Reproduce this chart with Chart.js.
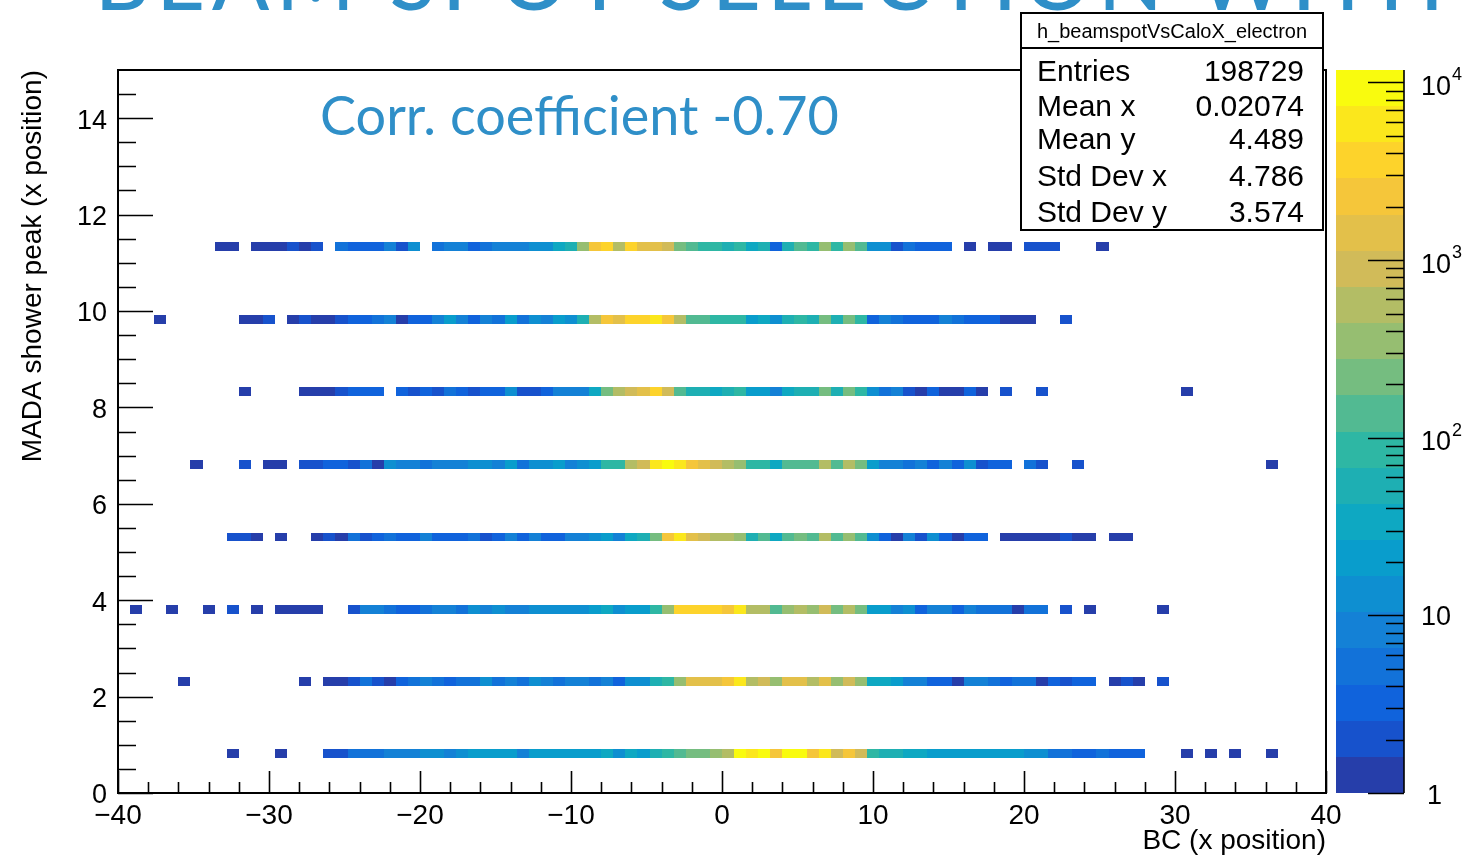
<!DOCTYPE html>
<html>
<head>
<meta charset="utf-8">
<title>h_beamspotVsCaloX_electron</title>
<script src="https://cdn.jsdelivr.net/npm/chart.js@4.4.1/dist/chart.umd.min.js"></script>
<style>
  html, body { margin: 0; padding: 0; background: #fff; }
  #wrap { position: relative; width: 1466px; height: 855px; overflow: hidden; }
</style>
</head>
<body>
<div id="wrap"><canvas id="h2" width="1466" height="855"></canvas></div>
<script>
// x binning of the histogram: 100 bins of 0.8 from -40 to 40
const xLow = -40;
const binWidthX = 0.8;

// y of each filled row (MADA shower peak), rows are 0.18 tall
const rowCentres = [0.82, 2.31, 3.81, 5.31, 6.82, 8.33, 9.83, 11.34];
const rowHalfHeight = 0.09;

// bin contents per row, one value per x bin
const row083 = [0,0,0,0,0,0,0,0,0,1, 0,0,0,1,0,0,0,2,2,5, 5,5,8,8,8,12,12,8,12,20, 20,20,20,8,20,20,20,20,20,20, 32,12,32,20,50,80,125,200,200,320, 500,8000,5000,11750,2000,8000,8000,2000,5000,800, 2000,800,80,50,50,32,32,20,20,20, 20,20,20,20,20,12,12,5,5,3, 3,5,3,3,3,0,0,0,1,0, 1,0,1,0,0,1,0,0,0,0];
const row233 = [0,0,0,0,0,1,0,0,0,0, 0,0,0,0,0,1,0,1,1,2, 5,2,1,3,5,8,5,3,5,5, 12,5,8,5,12,8,5,8,8,5, 8,3,12,12,50,80,320,1250,1250,1250, 2000,5000,500,800,320,1250,1250,500,1250,320, 800,320,32,32,20,8,8,3,3,1, 8,8,5,3,5,5,1,3,2,3, 3,0,1,2,1,0,2,0,0,0, 0,0,0,0,0,0,0,0,0,0];
const row383 = [0,1,0,0,1,0,0,1,0,2, 0,1,0,1,1,1,1,0,0,2, 8,8,5,3,3,5,8,8,5,12, 8,12,8,8,12,12,12,12,12,20, 32,12,20,20,80,320,3200,3200,3200,3200, 2000,5000,500,500,125,320,500,320,800,200, 500,200,20,20,8,12,3,8,8,3, 8,5,5,5,1,5,5,0,2,0, 1,0,0,0,0,0,1,0,0,0, 0,0,0,0,0,0,0,0,0,0];
const row533 = [0,0,0,0,0,0,0,0,0,2, 2,1,0,1,0,0,1,2,1,5, 2,3,5,3,3,8,3,3,3,5, 2,3,8,3,8,3,3,8,8,12, 20,8,32,50,200,2000,5000,1250,800,500, 500,320,50,125,32,125,200,125,500,125, 320,125,12,3,1,8,2,12,3,1, 3,3,0,1,1,1,1,1,2,1, 1,0,1,1,0,0,0,0,0,0, 0,0,0,0,0,0,0,0,0,0];
const row683 = [0,0,0,0,0,0,1,0,0,0, 2,0,1,1,0,2,2,3,3,2, 5,1,12,8,8,5,8,8,8,12, 12,8,25,5,12,12,20,8,12,20, 80,80,500,800,5000,8000,5000,2000,1250,800, 500,320,80,80,32,125,125,125,500,125, 500,200,20,8,8,5,8,3,8,3, 12,2,3,3,0,5,2,0,0,2, 0,0,0,0,0,0,0,0,0,0, 0,0,0,0,0,1,0,0,0,0];
const row833 = [0,0,0,0,0,0,0,0,0,0, 1,0,0,0,0,1,1,1,2,3, 3,3,0,3,2,3,2,5,3,2, 3,3,12,2,2,3,8,8,8,32, 200,500,800,1250,3200,800,125,50,50,32, 50,80,20,20,8,32,50,50,200,50, 200,80,12,5,8,2,1,3,1,1, 3,1,0,2,0,0,2,0,0,0, 0,0,0,0,0,0,0,0,1,0, 0,0,0,0,0,0,0,0,0,0];
const row983 = [0,0,0,1,0,0,0,0,0,0, 1,1,2,0,1,2,1,1,2,3, 3,5,8,1,3,3,8,20,8,3, 8,5,20,5,12,8,20,12,50,500, 2000,1250,3200,3200,5000,2000,500,125,125,80, 80,80,20,32,12,50,80,50,200,50, 200,80,3,8,5,3,3,3,8,5, 3,3,3,1,1,1,0,0,2,0, 0,0,0,0,0,0,0,0,0,0, 0,0,0,0,0,0,0,0,0,0];
const row1133 = [0,0,0,0,0,0,0,0,1,1, 0,1,1,1,2,1,2,0,5,3, 3,3,8,2,12,0,5,8,8,3, 5,8,8,8,12,12,32,50,320,2000, 3200,500,3200,1250,1250,800,200,125,80,80, 50,80,32,50,3,50,125,80,320,80, 320,125,12,12,2,5,3,3,3,0, 1,0,1,1,0,2,2,2,0,0, 0,1,0,0,0,0,0,0,0,0, 0,0,0,0,0,0,0,0,0,0];
const rows = [row083, row233, row383, row533, row683, row833, row983, row1133];

// stats box
const histName = 'h_beamspotVsCaloX_electron';
const statLabels = ['Entries', 'Mean x', 'Mean y', 'Std Dev x', 'Std Dev y'];
const statValues = ['198729', '0.02074', '4.489', '4.786', '3.574'];

// colour bar decades
const zDecades = [0, 1, 2, 3, 4];

const corrText = 'Corr. coefficient -0.70';
const headline = 'BEAM SPOT SELECTION WITH';

// ROOT kBird palette
const birdStops = [0.0, 0.125, 0.25, 0.375, 0.5, 0.625, 0.75, 0.875, 1.0];
const birdR = [0.2082, 0.0592, 0.0780, 0.0232, 0.1802, 0.5301, 0.8186, 0.9956, 0.9764];
const birdG = [0.1664, 0.3599, 0.5041, 0.6419, 0.7178, 0.7492, 0.7328, 0.7862, 0.9832];
const birdB = [0.5293, 0.8684, 0.8385, 0.7914, 0.6425, 0.4662, 0.3499, 0.1968, 0.0539];

function birdColour(t) {
  let i = 0;
  while (i < birdStops.length - 2 && t > birdStops[i + 1]) i++;
  const f = (t - birdStops[i]) / (birdStops[i + 1] - birdStops[i]);
  const c = (a) => Math.round(255 * (a[i] + f * (a[i + 1] - a[i])));
  return `rgb(${c(birdR)}, ${c(birdG)}, ${c(birdB)})`;
}

const nContours = 20;
const zMax = Math.max(...rows.flat());
const zLogMax = Math.log10(zMax);

function contourIndex(v) {
  const k = Math.floor(nContours * Math.log10(v) / zLogMax);
  return Math.min(Math.max(k, 0), nContours - 1);
}
const contourColour = (k) => birdColour((k + 1) / nContours);

const FONT = '"Liberation Sans", Arial, Helvetica, sans-serif';

const th2Plugin = {
  id: 'th2',
  beforeDatasetsDraw(chart) {
    const { ctx } = chart;
    const xs = chart.scales.x, ys = chart.scales.y;
    ctx.save();
    rows.forEach((counts, r) => {
      const yc = rowCentres[r];
      const yTop = Math.round(ys.getPixelForValue(yc + rowHalfHeight));
      const yBot = Math.round(ys.getPixelForValue(yc - rowHalfHeight));
      counts.forEach((v, i) => {
        if (!v) return;
        const xl = Math.round(xs.getPixelForValue(xLow + i * binWidthX));
        const xr = Math.round(xs.getPixelForValue(xLow + (i + 1) * binWidthX));
        ctx.fillStyle = contourColour(contourIndex(v));
        ctx.fillRect(xl, yTop, xr - xl, yBot - yTop);
      });
    });
    ctx.restore();
  },
  afterDraw(chart) {
    const { ctx, chartArea: a } = chart;
    const xs = chart.scales.x, ys = chart.scales.y, zs = chart.scales.z;
    ctx.save();

    // frame
    ctx.strokeStyle = '#000';
    ctx.lineWidth = 2;
    ctx.strokeRect(a.left, a.top, a.right - a.left, a.bottom - a.top);

    // x ticks, pointing up into the frame
    ctx.lineWidth = 1.6;
    ctx.beginPath();
    for (let v = -40; v <= 40; v += 2) {
      const px = Math.round(xs.getPixelForValue(v)) + 0.5;
      const len = v % 10 === 0 ? 22 : 11;
      ctx.moveTo(px, a.bottom);
      ctx.lineTo(px, a.bottom - len);
    }
    // y ticks, pointing right into the frame
    for (let v = 0; v < 15; v += 0.5) {
      const py = Math.round(ys.getPixelForValue(v)) + 0.5;
      const len = v % 2 === 0 ? 35 : 18;
      ctx.moveTo(a.left, py);
      ctx.lineTo(a.left + len, py);
    }
    ctx.stroke();

    // colour bar
    const cbL = a.right + 10, cbR = a.right + 78;
    for (let k = 0; k < nContours; k++) {
      const lo = Math.pow(10, k * zLogMax / nContours);
      const hi = Math.pow(10, (k + 1) * zLogMax / nContours);
      const y0 = Math.round(zs.getPixelForValue(lo));
      const y1 = Math.round(zs.getPixelForValue(hi));
      ctx.fillStyle = contourColour(k);
      ctx.fillRect(cbL, y1, cbR - cbL, y0 - y1);
    }
    ctx.strokeStyle = '#000';
    ctx.lineWidth = 1.6;
    ctx.beginPath();
    ctx.moveTo(cbR, a.top);
    ctx.lineTo(cbR, a.bottom);
    zDecades.forEach((d) => {
      for (let m = 1; m <= 9; m++) {
        const v = m * Math.pow(10, d);
        if (v > zMax) break;
        const py = Math.round(zs.getPixelForValue(v)) + 0.5;
        ctx.moveTo(cbR, py);
        ctx.lineTo(cbR - (m === 1 ? 36 : 18), py);
      }
    });
    ctx.stroke();

    ctx.fillStyle = '#000';
    ctx.textBaseline = 'middle';
    ctx.textAlign = 'left';
    zDecades.forEach((d) => {
      const py = zs.getPixelForValue(Math.pow(10, d));
      const lx = cbR + 17;
      ctx.font = `27px ${FONT}`;
      if (d === 0) {
        ctx.fillText('1', lx + 6, py + 4);
      } else if (d === 1) {
        ctx.fillText('10', lx, py + 2);
      } else {
        ctx.fillText('10', lx, py + 5);
        const w = ctx.measureText('10').width;
        ctx.font = `18px ${FONT}`;
        ctx.fillText(String(d), lx + w + 1, py - 7);
      }
    });

    // stats box
    const bx = 1021, by = 13, bw = 302, bh = 217;
    ctx.fillStyle = '#fff';
    ctx.fillRect(bx, by, bw, bh);
    ctx.strokeStyle = '#000';
    ctx.lineWidth = 2;
    ctx.strokeRect(bx, by, bw, bh);
    ctx.beginPath();
    ctx.moveTo(bx, by + 35);
    ctx.lineTo(bx + bw, by + 35);
    ctx.stroke();
    ctx.fillStyle = '#000';
    ctx.textBaseline = 'alphabetic';
    ctx.textAlign = 'center';
    ctx.font = `20px ${FONT}`;
    ctx.fillText(histName, bx + bw / 2, by + 25);
    const baselines = [81, 116, 149, 186, 222];
    ctx.font = `30px ${FONT}`;
    statLabels.forEach((lab, i) => {
      ctx.textAlign = 'left';
      ctx.fillText(lab, bx + 16, baselines[i]);
      ctx.textAlign = 'right';
      ctx.fillText(statValues[i], bx + 283, baselines[i]);
    });

    // annotation inside the frame
    ctx.fillStyle = '#2F8FC8';
    ctx.textAlign = 'left';
    ctx.font = `54px Lato, "Open Sans", sans-serif`;
    ctx.fillText(corrText, 320, 135);

    // slide headline, mostly above the page
    ctx.font = `500 84px Lato, "Open Sans", sans-serif`;
    const hw = ctx.measureText(headline).width;
    const spacing = (1345 - hw) / (headline.length - 1);
    let hx = 95;
    for (const ch of headline) {
      ctx.fillText(ch, hx, 10);
      hx += ctx.measureText(ch).width + spacing;
    }

    ctx.restore();
  }
};

const axisFont = (size) => ({ family: FONT, size });

new Chart(document.getElementById('h2'), {
  type: 'scatter',
  data: { datasets: [] },
  options: {
    responsive: false,
    devicePixelRatio: 1,
    animation: false,
    layout: { padding: { top: 70, right: 140, left: 0, bottom: 0 } },
    plugins: { legend: { display: false }, tooltip: { enabled: false } },
    scales: {
      x: {
        type: 'linear', min: -40, max: 40,
        grid: { display: false, drawTicks: false },
        border: { display: false },
        ticks: {
          stepSize: 10, autoSkip: false, maxRotation: 0, padding: 6,
          color: '#000', font: axisFont(28),
          callback: (v) => (v < 0 ? '\u2212' + Math.abs(v) : String(v))
        },
        title: {
          display: true, text: 'BC (x position)', align: 'end',
          color: '#000', font: axisFont(28), padding: { top: 0, bottom: -3 }
        },
        afterFit: (s) => { s.height = 62; }
      },
      y: {
        type: 'linear', min: 0, max: 15,
        grid: { display: false, drawTicks: false },
        border: { display: false },
        ticks: {
          stepSize: 2, includeBounds: false, padding: 11, labelOffset: 3,
          color: '#000', font: axisFont(27)
        },
        title: {
          display: true, text: 'MADA shower peak (x position)', align: 'end',
          color: '#000', font: axisFont(28), padding: { top: 16, bottom: 0 }
        },
        afterFit: (s) => { s.width = 118; }
      },
      z: {
        type: 'logarithmic', position: 'right', min: 1, max: zMax,
        display: false
      }
    }
  },
  plugins: [th2Plugin]
});
</script>
</body>
</html>
